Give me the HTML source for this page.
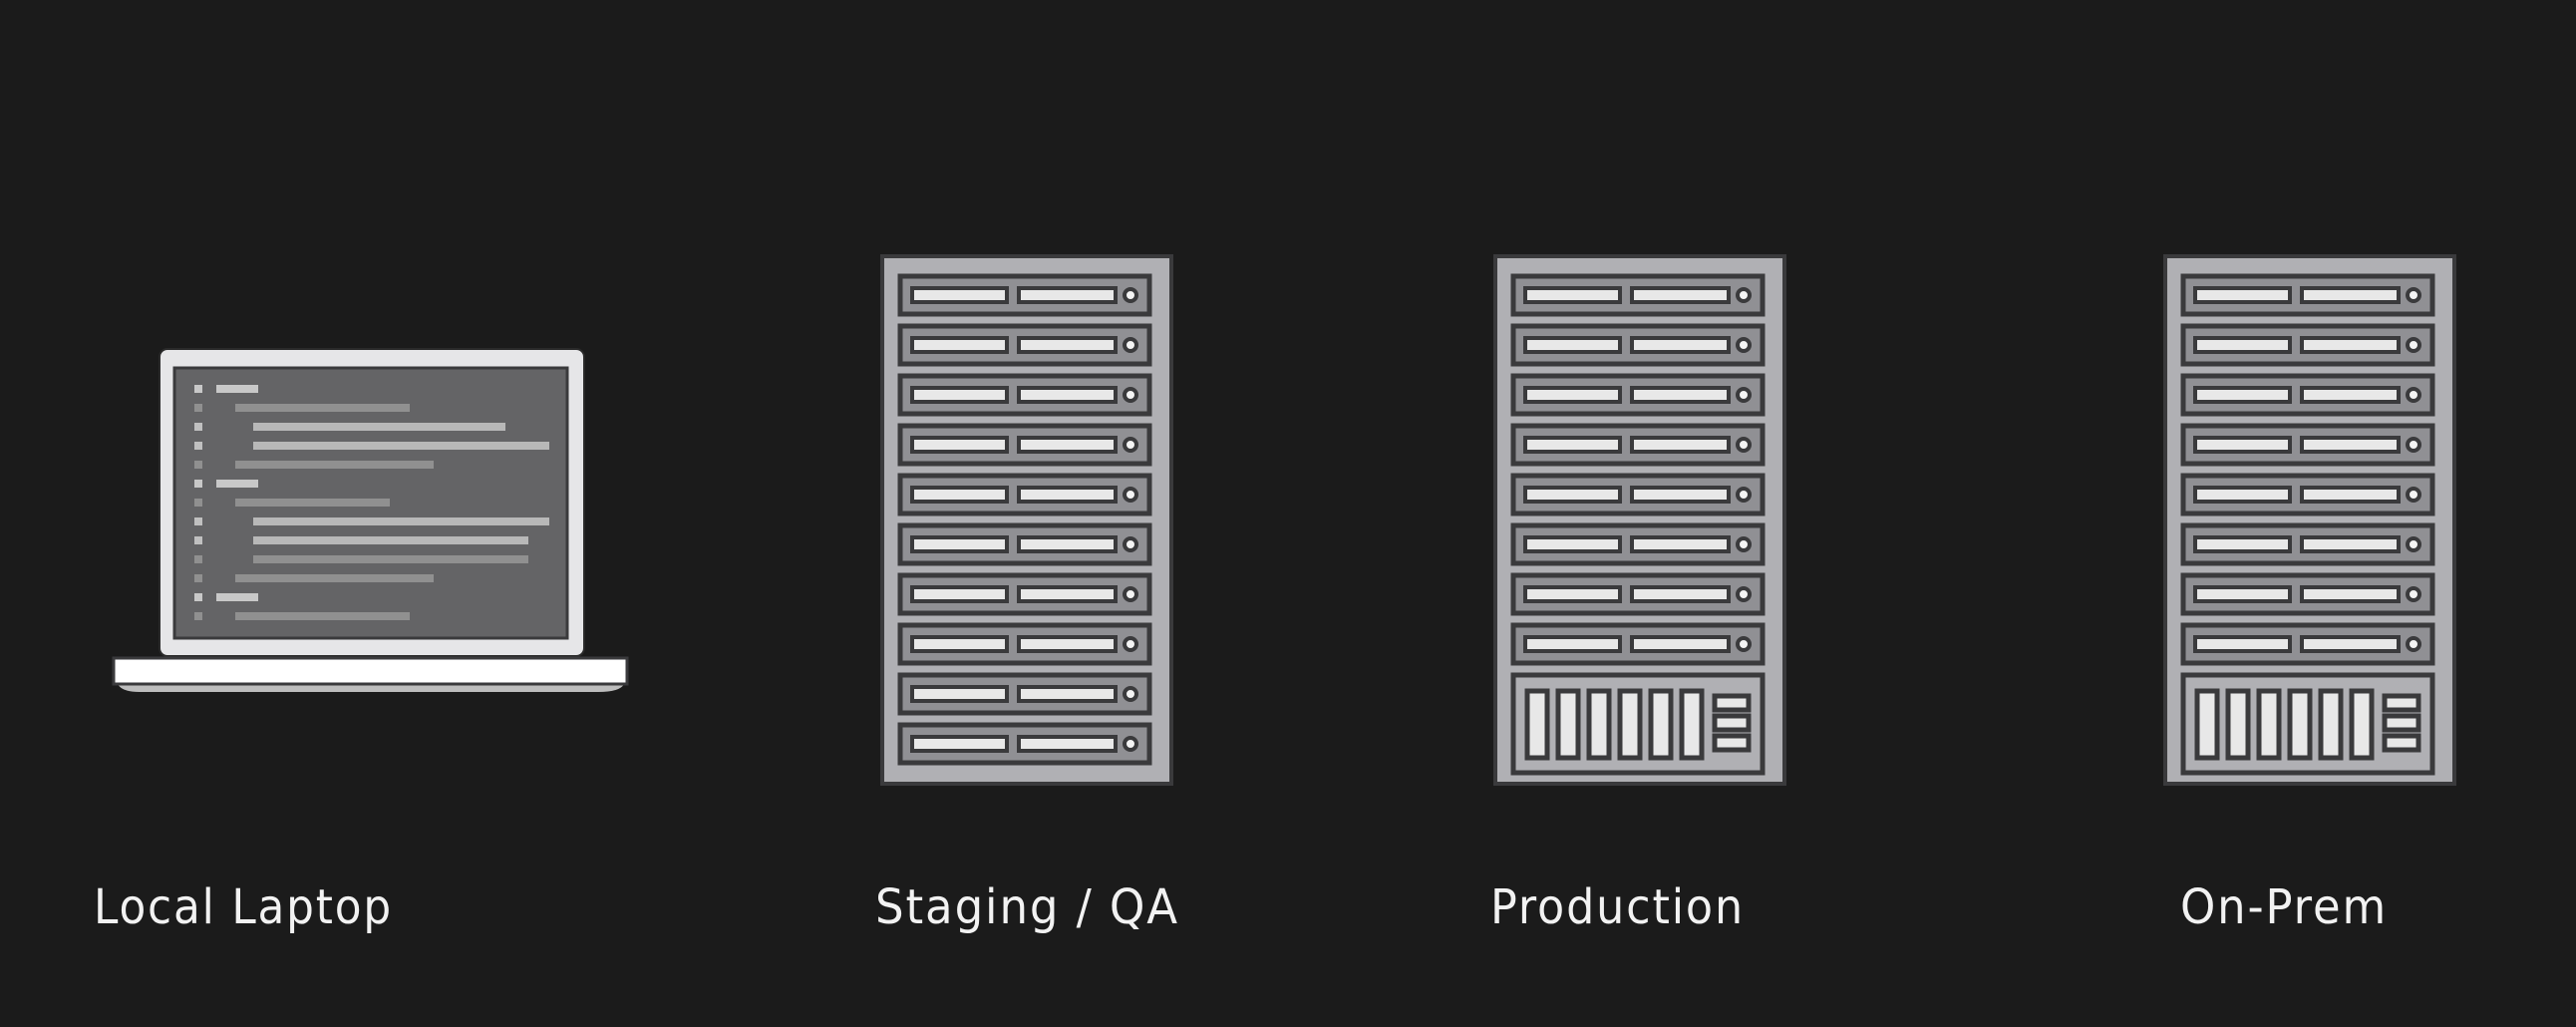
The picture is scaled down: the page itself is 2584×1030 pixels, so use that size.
<!DOCTYPE html>
<html><head><meta charset="utf-8"><style>
html,body{margin:0;padding:0;background:#1b1b1b;}
svg{display:block}
text{font-family:"DejaVu Sans","Liberation Sans",sans-serif;font-size:48px;fill:#f2f2f2;letter-spacing:2px}
</style></head><body>
<svg width="2584" height="1030" viewBox="0 0 2584 1030" xmlns="http://www.w3.org/2000/svg">
<rect width="2584" height="1030" fill="#1b1b1b"/>
<defs>
<g id="u">
 <rect x="18" y="0" width="250" height="38" fill="#909094" stroke="#3a3a3c" stroke-width="5"/>
 <rect x="30" y="12" width="95" height="14" fill="#e8e8e8" stroke="#3a3a3c" stroke-width="4"/>
 <rect x="137" y="12" width="97" height="14" fill="#e8e8e8" stroke="#3a3a3c" stroke-width="4"/>
 <circle cx="249" cy="19" r="6" fill="#f4f4f4" stroke="#3a3a3c" stroke-width="4"/>
</g>
<g id="big">
 <rect x="18" y="0" width="250" height="98" fill="#b0b0b4" stroke="#3a3a3c" stroke-width="5"/>
 <rect x="32" y="16" width="20" height="67" fill="#e8e8e8" stroke="#3a3a3c" stroke-width="5"/>
 <rect x="63" y="16" width="20" height="67" fill="#e8e8e8" stroke="#3a3a3c" stroke-width="5"/>
 <rect x="94" y="16" width="20" height="67" fill="#e8e8e8" stroke="#3a3a3c" stroke-width="5"/>
 <rect x="125" y="16" width="20" height="67" fill="#e8e8e8" stroke="#3a3a3c" stroke-width="5"/>
 <rect x="156" y="16" width="20" height="67" fill="#e8e8e8" stroke="#3a3a3c" stroke-width="5"/>
 <rect x="187" y="16" width="20" height="67" fill="#e8e8e8" stroke="#3a3a3c" stroke-width="5"/>
 <rect x="220" y="21" width="34" height="14" fill="#e8e8e8" stroke="#3a3a3c" stroke-width="5"/>
 <rect x="220" y="41" width="34" height="14" fill="#e8e8e8" stroke="#3a3a3c" stroke-width="5"/>
 <rect x="220" y="61" width="34" height="14" fill="#e8e8e8" stroke="#3a3a3c" stroke-width="5"/>
</g>
<g id="rack">
 <rect x="0" y="0" width="290" height="529" fill="#b0b0b4" stroke="#3a3a3c" stroke-width="4"/>
</g>
</defs>

<g transform="translate(885,257)">
 <use href="#rack"/>
 <use href="#u" y="20"/><use href="#u" y="70"/><use href="#u" y="120"/><use href="#u" y="170"/><use href="#u" y="220"/>
 <use href="#u" y="270"/><use href="#u" y="320"/><use href="#u" y="370"/><use href="#u" y="420"/><use href="#u" y="470"/>
</g>
<g transform="translate(1500,257)">
 <use href="#rack"/>
 <use href="#u" y="20"/><use href="#u" y="70"/><use href="#u" y="120"/><use href="#u" y="170"/><use href="#u" y="220"/>
 <use href="#u" y="270"/><use href="#u" y="320"/><use href="#u" y="370"/>
 <use href="#big" y="420"/>
</g>
<g transform="translate(2172,257)">
 <use href="#rack"/>
 <use href="#u" y="20"/><use href="#u" y="70"/><use href="#u" y="120"/><use href="#u" y="170"/><use href="#u" y="220"/>
 <use href="#u" y="270"/><use href="#u" y="320"/><use href="#u" y="370"/>
 <use href="#big" y="420"/>
</g>

<rect x="160" y="350" width="426" height="308" rx="8" fill="#e6e6e8" stroke="#2a2a2a" stroke-width="2"/>
<rect x="175" y="369" width="394" height="271" fill="#646466" stroke="#3a3a3c" stroke-width="3"/>
<path d="M118 686 Q122 694 140 694 L600 694 Q622 694 626 686 Z" fill="#bdbdbd"/>
<rect x="114" y="660" width="515" height="26" fill="#ffffff" stroke="#3a3a3c" stroke-width="3"/>
<g>
 <rect x="195" y="386" width="8" height="8" fill="#c8c8c8"/><rect x="217" y="386" width="42" height="8" fill="#c8c8c8"/>
 <rect x="195" y="405" width="8" height="8" fill="#909090"/><rect x="236" y="405" width="175" height="8" fill="#909090"/>
 <rect x="195" y="424" width="8" height="8" fill="#c0c0c0"/><rect x="254" y="424" width="253" height="8" fill="#b8b8b8"/>
 <rect x="195" y="443" width="8" height="8" fill="#c0c0c0"/><rect x="254" y="443" width="297" height="8" fill="#b8b8b8"/>
 <rect x="195" y="462" width="8" height="8" fill="#909090"/><rect x="236" y="462" width="199" height="8" fill="#909090"/>
 <rect x="195" y="481" width="8" height="8" fill="#c8c8c8"/><rect x="217" y="481" width="42" height="8" fill="#c8c8c8"/>
 <rect x="195" y="500" width="8" height="8" fill="#909090"/><rect x="236" y="500" width="155" height="8" fill="#909090"/>
 <rect x="195" y="519" width="8" height="8" fill="#c0c0c0"/><rect x="254" y="519" width="297" height="8" fill="#b8b8b8"/>
 <rect x="195" y="538" width="8" height="8" fill="#c0c0c0"/><rect x="254" y="538" width="276" height="8" fill="#b8b8b8"/>
 <rect x="195" y="557" width="8" height="8" fill="#909090"/><rect x="254" y="557" width="276" height="8" fill="#909090"/>
 <rect x="195" y="576" width="8" height="8" fill="#909090"/><rect x="236" y="576" width="199" height="8" fill="#909090"/>
 <rect x="195" y="595" width="8" height="8" fill="#c8c8c8"/><rect x="217" y="595" width="42" height="8" fill="#c8c8c8"/>
 <rect x="195" y="614" width="8" height="8" fill="#909090"/><rect x="236" y="614" width="175" height="8" fill="#909090"/>
</g>

<text x="94" y="926" textLength="300" lengthAdjust="spacingAndGlyphs">Local Laptop</text>
<text x="878" y="926" textLength="305" lengthAdjust="spacingAndGlyphs">Staging / QA</text>
<text x="1495" y="926" textLength="255" lengthAdjust="spacingAndGlyphs">Production</text>
<text x="2187" y="926" textLength="208" lengthAdjust="spacingAndGlyphs">On-Prem</text>
</svg>
</body></html>
